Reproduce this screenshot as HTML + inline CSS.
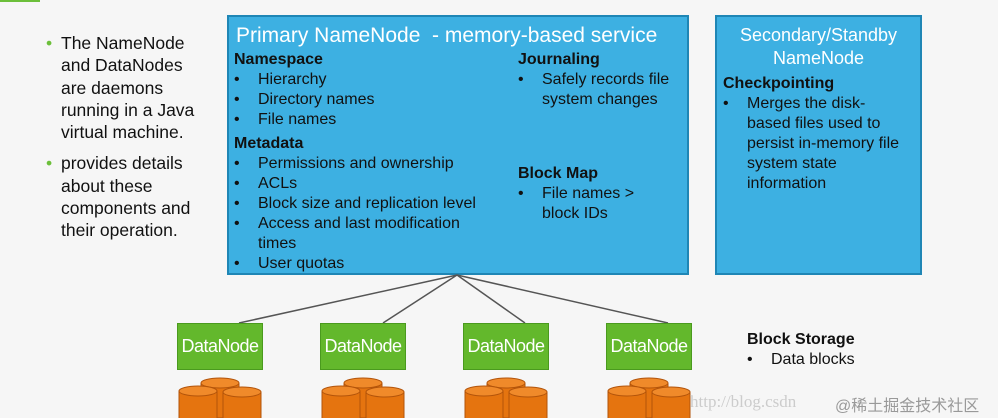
<!DOCTYPE html>
<html><head><meta charset="utf-8"><style>
body{margin:0;width:1001px;height:418px;background:#f6f6f6;position:relative;overflow:hidden;font-family:"Liberation Sans",Arial,sans-serif}
.a{position:absolute;white-space:nowrap}
.box{position:absolute;background:#3db0e2;border:2px solid #1f86b5;box-sizing:border-box}
.t{font-size:16px;line-height:20px;color:#111}
.b{font-weight:bold}
.li{position:relative;padding-left:24px}
.li:before{content:"•";position:absolute;left:0}
.nb{padding-left:24px}
.dn{position:absolute;top:323px;width:86px;height:47px;background:#63b82c;border:1px solid #4a9a1e;box-sizing:border-box;color:#fff;font-size:18px;letter-spacing:-0.5px;text-align:center;line-height:45px}
</style></head><body>
<div class="a" style="left:0;top:0;width:40px;height:2px;background:#6cbf3a"></div>
<div class="a" style="left:998px;top:0;width:3px;height:418px;background:#fff"></div>
<div class="a" style="left:46px;top:32px;font-size:17.5px;line-height:22.3px;color:#111">
<div style="position:relative;padding-left:15px"><span style="position:absolute;left:0;color:#6cbf3a">•</span>The NameNode<br>and DataNodes<br>are daemons<br>running in a Java<br>virtual machine.</div>
<div style="position:relative;padding-left:15px;margin-top:9px"><span style="position:absolute;left:0;color:#6cbf3a">•</span>provides details<br>about these<br>components and<br>their operation.</div>
</div>
<div class="box" style="left:227px;top:15px;width:462px;height:260px"></div>
<div class="box" style="left:715px;top:15px;width:207px;height:260px"></div>
<div class="a" style="left:236px;top:24px;font-size:21px;color:#fff">Primary NameNode&nbsp; - memory-based service</div>
<div class="a t" style="left:234px;top:50px">
<div class="b">Namespace</div>
<div class="li">Hierarchy</div><div class="li">Directory names</div><div class="li">File names</div>
<div class="b" style="margin-top:4px">Metadata</div>
<div class="li">Permissions and ownership</div><div class="li">ACLs</div><div class="li">Block size and replication level</div><div class="li">Access and last modification</div><div class="nb">times</div><div class="li">User quotas</div>
</div>
<div class="a t" style="left:518px;top:50px">
<div class="b">Journaling</div>
<div class="li">Safely records file</div><div class="nb">system changes</div>
<div class="b" style="margin-top:54px">Block Map</div>
<div class="li">File names &gt;</div><div class="nb">block IDs</div>
</div>
<div class="a" style="left:715px;top:24px;width:207px;text-align:center;font-size:18px;line-height:23px;color:#fff">Secondary/Standby<br>NameNode</div>
<div class="a t" style="left:723px;top:74px">
<div class="b">Checkpointing</div>
<div class="li">Merges the disk-</div><div class="nb">based files used to<br>persist in-memory file<br>system state<br>information</div>
</div>
<svg class="a" style="left:0;top:0" width="1001" height="418">
<g stroke="#555" stroke-width="1.5">
<line x1="457" y1="275" x2="239" y2="323"/><line x1="457" y1="275" x2="383" y2="323"/>
<line x1="457" y1="275" x2="525" y2="323"/><line x1="457" y1="275" x2="668" y2="323"/>
</g>
<defs><g id="cy"><path d="M0 5 v30 a19 5 0 0 0 38 0 v-30" fill="#e5740f" stroke="#b3540a"/><ellipse cx="19" cy="5" rx="19" ry="5" fill="#f08a2a" stroke="#b3540a"/></g>
<g id="st"><use href="#cy" x="24" y="0"/><use href="#cy" x="2" y="8"/><use href="#cy" x="46" y="9"/></g></defs>
<use href="#st" x="177" y="378"/><use href="#st" x="320" y="378"/><use href="#st" x="463" y="378"/><use href="#st" x="606" y="378"/>
</svg>
<div class="dn" style="left:177px">DataNode</div>
<div class="dn" style="left:320px">DataNode</div>
<div class="dn" style="left:463px">DataNode</div>
<div class="dn" style="left:606px">DataNode</div>
<div class="a t" style="left:747px;top:330px"><div class="b">Block Storage</div><div class="li">Data blocks</div></div>
<div class="a" style="left:690px;top:392px;font-family:'Liberation Serif',serif;font-size:17px;color:#ccc">http://blog.csdn</div>
<div class="a" style="left:835px;top:392px;font-family:'Liberation Sans','Noto Sans CJK SC',sans-serif;font-size:16px;color:#999">@稀土掘金技术社区</div>
</body></html>
